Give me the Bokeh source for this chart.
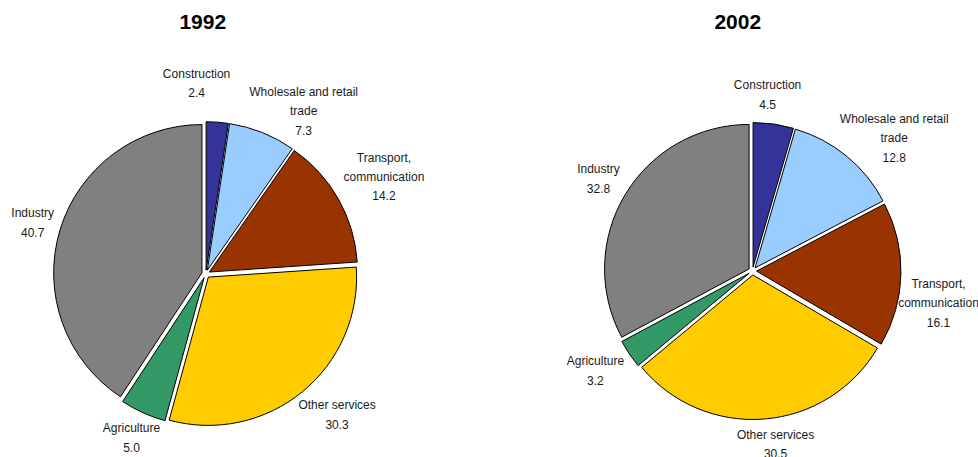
import math
from bokeh.plotting import figure
from bokeh.models import ColumnDataSource, Range1d
from bokeh.core.properties import value
from bokeh.embed import file_html
from bokeh.resources import INLINE

# ---------------- data ----------------
categories = ["Construction", "Wholesale and retail trade", "Transport, communication",
              "Other services", "Agriculture", "Industry"]
label_lines = [["Construction"], ["Wholesale and retail", "trade"], ["Transport,", "communication"],
               ["Other services"], ["Agriculture"], ["Industry"]]
years = ["1992", "2002"]
values_1992 = [2.4, 7.3, 14.2, 30.3, 5.0, 40.7]
values_2002 = [4.5, 12.8, 16.1, 30.5, 3.2, 32.8]
colors = ["#333399", "#99CCFF", "#993300", "#FFCC00", "#339966", "#808080"]

# ---------------- layout (page pixels) ----------------
W, H = 978, 457
MX, MY = 0, 0
pies = {
    "1992": dict(values=values_1992, cx=205.3, cy=273.5, r=148.3, title_x=202.3,
                 nudge=[(-22.5, -15.3), (23, 24.5), (4, 1), (8.6, -9.2), (1.6, -4.3), (0.5, 0.6)]),
    "2002": dict(values=values_2002, cx=752.0, cy=270.5, r=144.5, title_x=737.3,
                 nudge=[(-9.5, -4), (10, 28.5), (-1.5, 28), (9, 1.4), (-2.3, -4.3), (0, 0)]),
}
TITLE_Y = 21.7
EXPLODE = 4.0
GAP = 6.0
LINE_SP = 19.0
CHAR_W = 2.8


def dx(px):
    return px - MX


def dy(py):
    return (MY + H) - py


p = figure(width=W, height=H, x_range=Range1d(0, W), y_range=Range1d(0, H),
           output_backend="svg", toolbar_location=None, min_border=0,
           x_axis_type=None, y_axis_type=None)
p.grid.visible = False
p.outline_line_color = None
p.background_fill_color = "white"
p.border_fill_color = "white"

for yr in years:
    cfg = pies[yr]
    vals = cfg["values"]
    total = sum(vals)
    cx, cy, r = cfg["cx"], cfg["cy"], cfg["r"]
    wx, wy, st, en = [], [], [], []
    tx, ty, tt = [], [], []
    cum = 0.0
    for i, v in enumerate(vals):
        f0 = cum / total
        cum += v
        f1 = cum / total
        a = math.pi * (f0 + f1)  # bisector, clockwise from 12 o'clock
        ux, uy = math.sin(a), -math.cos(a)  # page direction (y down)
        wx.append(dx(cx + EXPLODE * ux))
        wy.append(dy(cy + EXPLODE * uy))
        st.append(math.pi / 2 - 2 * math.pi * f0)
        en.append(math.pi / 2 - 2 * math.pi * f1)
        # label
        lines = label_lines[i] + [f"{v:.1f}"]
        n = len(lines)
        hw = CHAR_W * max(len(s) for s in lines)
        hh = LINE_SP / 2 * n
        ext = abs(ux) * hw + abs(uy) * hh
        dist = r + GAP + ext
        nx, ny = cfg["nudge"][i]
        lx = cx + dist * ux + nx
        ly = cy + dist * uy + ny
        for j, s in enumerate(lines):
            tx.append(dx(lx))
            ty.append(dy(ly + (j - (n - 1) / 2) * LINE_SP))
            tt.append(s)
    src = ColumnDataSource(dict(x=wx, y=wy, start=st, end=en, color=colors,
                                name=categories, value=vals))
    p.wedge(x="x", y="y", radius=r, start_angle="start", end_angle="end",
            direction="clock", fill_color="color", line_color="black", line_width=1,
            source=src)
    lsrc = ColumnDataSource(dict(x=tx, y=ty, text=tt))
    p.text(x="x", y="y", text="text", source=lsrc, text_align="center",
           text_baseline="middle", text_font=value("Liberation Sans"),
           text_font_size="12px", text_color="#1a1a1a")
    tsrc = ColumnDataSource(dict(x=[dx(cfg["title_x"])], y=[dy(TITLE_Y)], text=[yr]))
    p.text(x="x", y="y", text="text", source=tsrc, text_align="center",
           text_baseline="middle", text_font=value("Liberation Sans"),
           text_font_size="21px", text_font_style="bold", text_color="black")

open("out.html", "w").write(file_html(p, INLINE))
